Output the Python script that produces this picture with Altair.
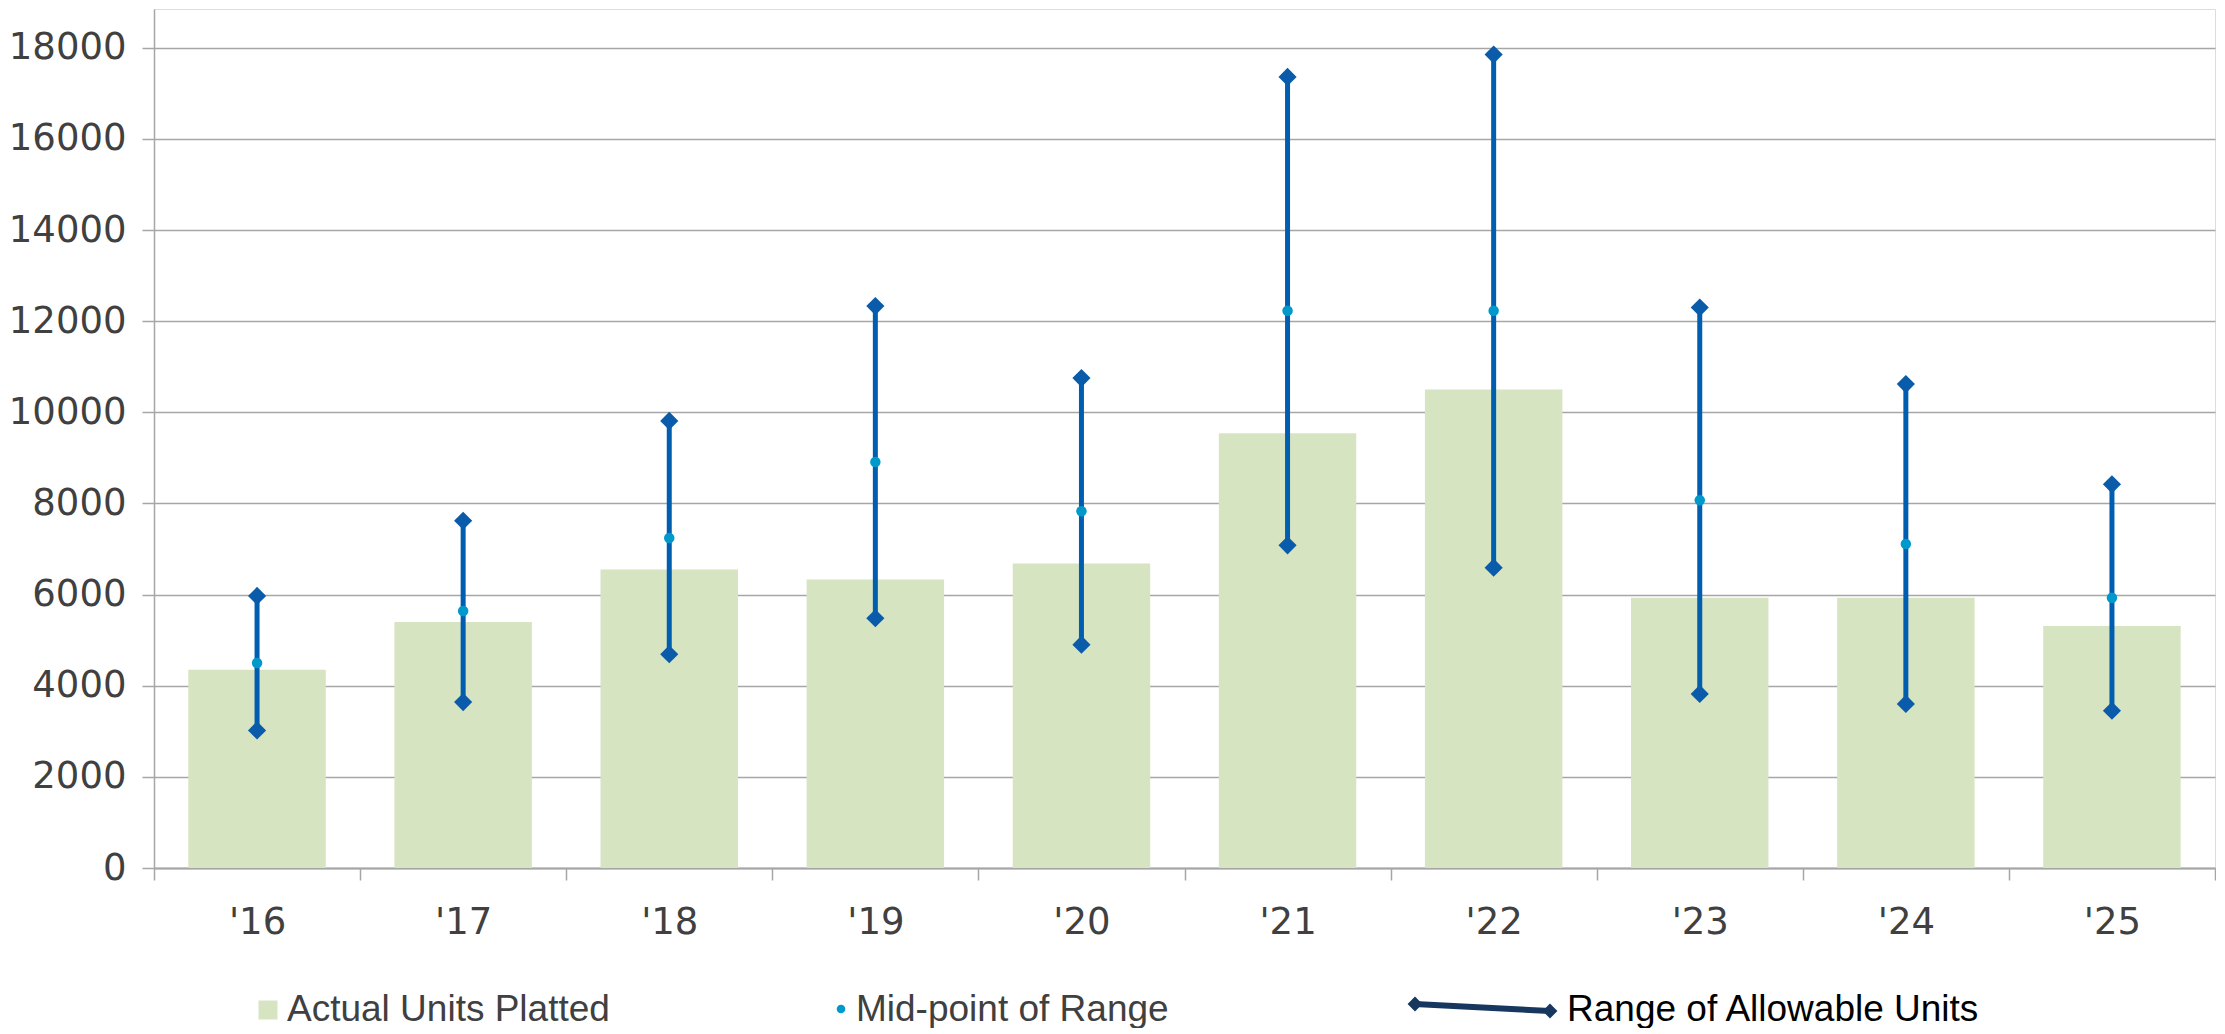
import altair as alt
import pandas as pd

years = ["'16", "'17", "'18", "'19", "'20", "'21", "'22", "'23", "'24", "'25"]
actual_units = [4350, 5400, 6550, 6330, 6680, 9540, 10500, 5930, 5930, 5310]
range_low = [3020, 3640, 4690, 5480, 4900, 7080, 6590, 3820, 3600, 3450]
range_high = [5970, 7620, 9810, 12330, 10750, 17360, 17850, 12300, 10620, 8420]
mid_point = [4500, 5640, 7240, 8910, 7830, 12230, 12230, 8070, 7110, 5930]
y_ticks = [0, 2000, 4000, 6000, 8000, 10000, 12000, 14000, 16000, 18000]
legend_labels = ["Actual Units Platted", "Mid-point of Range", "Range of Allowable Units"]

df = pd.DataFrame({
    "year": years,
    "actual": actual_units,
    "low": range_low,
    "high": range_high,
    "mid": mid_point,
})

GRAY = "#A6A6A6"
BAR = "#D7E4C2"
LINE = "#005EB0"
DIAMOND = "#0A5CAA"
MID = "#0099CC"
TXT = "#404040"

x_enc = alt.X(
    "year:N", sort=years, title=None,
    scale=alt.Scale(paddingInner=0, paddingOuter=0),
    axis=alt.Axis(
        labelAngle=0, tickBand="extent", labelFont="DejaVu Sans", labelFontSize=37,
        labelColor=TXT, labelPadding=24, tickSize=12, tickColor=GRAY, tickWidth=1.5,
        domainColor=GRAY, domainWidth=2, grid=False,
    ),
)
y_scale = alt.Scale(domain=[0, 18850], nice=False)
y_axis = alt.Axis(
    values=y_ticks, format="d", labelFont="DejaVu Sans", labelFontSize=37, labelColor=TXT,
    labelPadding=16, tickSize=12, tickColor=GRAY, tickWidth=1.5,
    domainColor=GRAY, domainWidth=1.5, gridColor=GRAY, gridWidth=1.5, grid=True,
)

base = alt.Chart(df)

bars = base.mark_bar(color=BAR, width={"band": 0.667}).encode(
    x=x_enc, y=alt.Y("actual:Q", scale=y_scale, axis=y_axis, title=None)
)
rules = base.mark_rule(color=LINE, strokeWidth=5).encode(
    x=alt.X("year:N", sort=years), y=alt.Y("low:Q", scale=y_scale), y2="high:Q"
)
low_pts = base.mark_point(shape="diamond", filled=True, size=330, color=DIAMOND, opacity=1).encode(
    x=alt.X("year:N", sort=years), y=alt.Y("low:Q", scale=y_scale)
)
high_pts = base.mark_point(shape="diamond", filled=True, size=330, color=DIAMOND, opacity=1).encode(
    x=alt.X("year:N", sort=years), y=alt.Y("high:Q", scale=y_scale)
)
mids = base.mark_circle(size=110, color=MID, opacity=1).encode(
    x=alt.X("year:N", sort=years), y=alt.Y("mid:Q", scale=y_scale)
)

LY = 1001
one = pd.DataFrame({"label": [legend_labels[0]]})
two = pd.DataFrame({"label": [legend_labels[1]]})
three = pd.DataFrame({"label": [legend_labels[2]]})

leg_sq = alt.Chart(one).mark_square(color=BAR, size=361, opacity=1).encode(
    x=alt.value(114), y=alt.value(LY)
)
leg_t1 = alt.Chart(one).mark_text(
    align="left", baseline="middle", font="Liberation Sans", fontSize=37, color=TXT
).encode(x=alt.value(133), y=alt.value(LY), text="label:N")
leg_dot = alt.Chart(two).mark_circle(color=MID, size=75, opacity=1).encode(
    x=alt.value(687), y=alt.value(LY - 1)
)
leg_t2 = alt.Chart(two).mark_text(
    align="left", baseline="middle", font="Liberation Sans", fontSize=37, color=TXT
).encode(x=alt.value(702), y=alt.value(LY), text="label:N")
leg_line = alt.Chart(three).mark_rule(color="#17375E", strokeWidth=6).encode(
    x=alt.value(1261), y=alt.value(LY - 6), x2=alt.value(1396), y2=alt.value(LY + 1)
)
leg_d1 = alt.Chart(three).mark_point(shape="diamond", filled=True, size=220, color="#17375E", opacity=1).encode(
    x=alt.value(1261), y=alt.value(LY - 6)
)
leg_d2 = alt.Chart(three).mark_point(shape="diamond", filled=True, size=220, color="#17375E", opacity=1).encode(
    x=alt.value(1396), y=alt.value(LY + 1)
)
leg_t3 = alt.Chart(three).mark_text(
    align="left", baseline="middle", font="Liberation Sans", fontSize=37, color="#000000"
).encode(x=alt.value(1413), y=alt.value(LY), text="label:N")

chart = alt.layer(
    bars, rules, low_pts, high_pts, mids,
    leg_sq, leg_t1, leg_dot, leg_t2, leg_line, leg_d1, leg_d2, leg_t3,
).properties(
    width=2061, height=859,
    padding={"left": 0, "top": 1, "right": 0, "bottom": 0},
).configure_view(
    stroke=GRAY, strokeWidth=1.5
).configure(background="white")

chart.save("out.html", embed_options={"renderer": "svg", "actions": False})
